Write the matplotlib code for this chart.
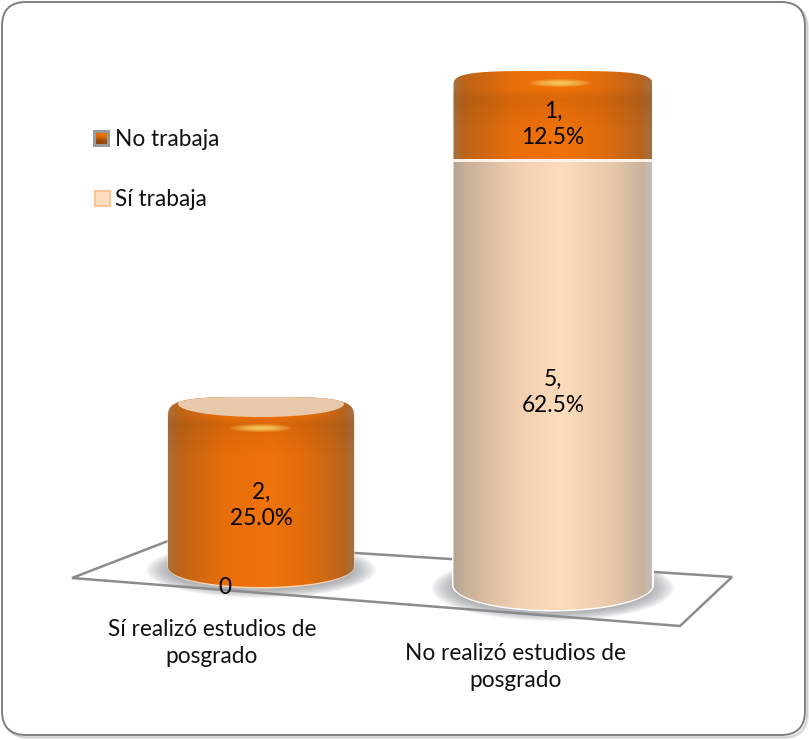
"""Stacked 3D-style cylinder chart: posgrado vs. empleo."""

import numpy as np
import matplotlib
matplotlib.use("Agg")
import matplotlib.pyplot as plt
from matplotlib.patches import Ellipse, FancyBboxPatch, Polygon, Rectangle

plt.rcParams['font.family'] = ['Lato', 'DejaVu Sans']

# data
categories = ["Sí realizó estudios de\nposgrado", "No realizó estudios de\nposgrado"]
series_names = ["No trabaja", "Sí trabaja"]
si_trabaja = [0, 5]
no_trabaja = [2, 1]
si_pct = [0.0, 62.5]
no_pct = [25.0, 12.5]

# layout, in pixels of the 809x740 canvas
W, H = 809, 740
PX_PER_UNIT = 85
BAR_XC = [261, 553]
BAR_HALF = [93, 99.5]
BAR_BASE = [567, 585]   # where the side walls end
BAR_DEPTH = [20, 25]    # depth of the lower ellipse arc
ROOF = [22, 16]         # height of the shoulder above the top of the wall
ROOF_LIFT = [0, 4]      # perspective lift of the roof on the nearer bar
FONT = 16.3

ORANGE = [(0.00, (168, 112, 62)), (0.06, (190, 100, 25)), (0.30, (232, 110, 10)),
          (0.55, (240, 115, 10)), (0.75, (225, 108, 12)), (0.95, (185, 100, 30)),
          (1.00, (160, 112, 70))]
TAN = [(0.00, (180, 165, 150)), (0.06, (200, 175, 152)), (0.30, (240, 205, 174)),
       (0.55, (253, 220, 188)), (0.80, (232, 200, 170)), (0.96, (200, 178, 158)),
       (1.00, (195, 190, 185))]


def gradient(stops, n=200):
    t = np.linspace(0, 1, n)
    pos = [s[0] for s in stops]
    rgb = np.array([s[1] for s in stops]) / 255
    return np.stack([np.interp(t, pos, rgb[:, i]) for i in range(3)], axis=-1)[None, :, :]


def silhouette(xc, half, y_wall, y_bot, depth, roof):
    """Closed outline: flat rounded roof, straight walls, curved floor."""
    t = np.linspace(np.pi, 0, 120)
    top_x = xc + half * np.sign(np.cos(t)) * np.abs(np.cos(t)) ** 0.5
    top_y = y_wall - roof * np.abs(np.sin(t)) ** 0.55
    t = np.linspace(0, np.pi, 80)
    bot_x = xc + half * np.cos(t)
    bot_y = y_bot + depth * np.sin(t)
    return np.column_stack([np.r_[top_x, bot_x], np.r_[top_y, bot_y]])


def draw_segment(ax, xc, half, y_wall, y_bot, depth, roof, stops, z):
    verts = silhouette(xc, half, y_wall, y_bot, depth, roof)
    clip = Polygon(verts, closed=True, transform=ax.transData, fc='none', ec='none')
    ax.add_patch(clip)
    im = ax.imshow(gradient(stops), extent=(xc - half, xc + half, y_bot + depth, y_wall - roof),
                   aspect='auto', zorder=z, interpolation='bilinear')
    im.set_clip_path(clip)
    return clip


def draw_shadow(ax, xc, half, y_c, depth):
    for k in np.linspace(1, 0, 12):
        ax.add_patch(Ellipse((xc, y_c), 2 * (half + 22 * k), 2 * (depth + 8 * k),
                             fc='#8a8d92', ec='none', alpha=0.08, zorder=2))


def draw_bevel(ax, clip, xc, half, y0, y1, z):
    """Shaded band under the shoulder of a cylinder."""
    a = np.interp(np.linspace(0, 1, 60), [0, 0.3, 0.45, 1], [0.0, 0.0, 0.16, 0.0])
    img = np.zeros((60, 1, 4))
    img[:, :, :3] = (0.45, 0.22, 0.0)
    img[:, 0, 3] = a
    im = ax.imshow(img, extent=(xc - half, xc + half, y1, y0), aspect='auto', zorder=z,
                   interpolation='bilinear')
    im.set_clip_path(clip)


def draw_glow(ax, x, y, z):
    for k in np.linspace(1, 0.1, 10):
        ax.add_patch(Ellipse((x, y), 62 * k, 8 * k, fc='#ffe27a', ec='none', alpha=0.14, zorder=z))


fig = plt.figure(figsize=(W / 100, H / 100), dpi=100, facecolor='white')
ax = fig.add_axes([0, 0, 1, 1])
ax.set_xlim(0, W)
ax.set_ylim(H, 0)
ax.axis('off')

# frame with a soft shadow
for off, a in [(3, 0.12), (2, 0.2)]:
    ax.add_patch(FancyBboxPatch((2 + off, 2 + off), 803, 733, boxstyle="round,pad=0,rounding_size=24",
                                fc='none', ec='#555555', lw=1.5, alpha=a, zorder=0))
ax.add_patch(FancyBboxPatch((2, 2), 803, 733, boxstyle="round,pad=0,rounding_size=24",
                            fc='white', ec='#7f7f7f', lw=1.4, zorder=0.5))

# floor of the chart
ax.add_patch(Polygon([(72, 578), (168, 541), (732, 577), (680, 626)], closed=True,
                     fc='white', ec='#8c8c8c', lw=1.8, zorder=1))

# cylinders
for i in range(2):
    xc, half, base, depth, roof = BAR_XC[i], BAR_HALF[i], BAR_BASE[i], BAR_DEPTH[i], ROOF[i]
    draw_shadow(ax, xc, half, base + 3, depth)
    boundary = base - si_trabaja[i] * PX_PER_UNIT
    top = boundary - no_trabaja[i] * PX_PER_UNIT - ROOF_LIFT[i]   # top of the silhouette
    wall = top + roof

    if si_trabaja[i] > 0:
        # white rim around the lower segment
        ax.add_patch(Polygon(silhouette(xc, half + 1.5, boundary, base, depth + 1.5, 0.1),
                             closed=True, fc='white', ec='none', zorder=3))
        draw_segment(ax, xc, half, boundary, base, depth, 0.1, TAN, 4)

    y_end = boundary if si_trabaja[i] > 0 else base
    d_end = 0 if si_trabaja[i] > 0 else depth
    if si_trabaja[i] == 0:
        ax.add_patch(Polygon(silhouette(xc, half + 0.5, wall, y_end, d_end + 1.5, roof),
                             closed=True, fc='#fbd5b0', ec='none', zorder=3))
    clip = draw_segment(ax, xc, half, wall, y_end, d_end, roof, ORANGE, 5)
    draw_bevel(ax, clip, xc, half, top, top + 60, 5.5)
    draw_glow(ax, xc + (0 if i == 0 else 7), top + (31 if i == 0 else 12), 6)

    if si_trabaja[i] > 0:
        ax.add_patch(Rectangle((xc - half, boundary - 1.5), 2 * half, 3, fc='#fdf3ea', ec='none', zorder=7))
    else:
        # pale roof of the short cylinder
        face = Ellipse((xc, top + 7), 2 * half - 20, 26, fc='#e9c9ab', ec='none', zorder=6)
        ax.add_patch(face)
        face.set_clip_path(clip)

# data labels
LABEL_Y = [[None, 505], [392, 124]]
for i in range(2):
    if si_trabaja[i] > 0:
        ax.text(BAR_XC[i], LABEL_Y[i][0], f"{si_trabaja[i]},\n{si_pct[i]:.1f}%", ha='center', va='center',
                fontsize=FONT, color='black', zorder=10, linespacing=1.3)
    else:
        ax.text(225, 587, f"{si_trabaja[i]}", ha='center', va='center', fontsize=FONT, color='black', zorder=10)
    ax.text(BAR_XC[i], LABEL_Y[i][1], f"{no_trabaja[i]},\n{no_pct[i]:.1f}%", ha='center', va='center',
            fontsize=FONT, color='black', zorder=10, linespacing=1.3)

# category labels
ax.text(212, 643, categories[0], ha='center', va='center', fontsize=FONT, color='#111111', linespacing=1.32)
ax.text(516, 667, categories[1], ha='center', va='center', fontsize=FONT, color='#111111', linespacing=1.32)

# legend
ax.add_patch(Rectangle((93, 130), 17, 17, fc='#9a9a9a', ec='none', zorder=3))
ax.imshow(np.array([[[0.9, 0.42, 0.04], [0.93, 0.45, 0.04]], [[0.55, 0.28, 0.05], [0.62, 0.3, 0.05]]]),
          extent=(96, 107, 144, 133), aspect='auto', zorder=4, interpolation='bilinear')
ax.add_patch(Rectangle((95, 191), 15, 15, fc='#fddcc0', ec='#fbc596', lw=1.5, zorder=3))
ax.text(115, 140, series_names[0], ha='left', va='center', fontsize=FONT, color='#111111')
ax.text(115, 200, series_names[1], ha='left', va='center', fontsize=FONT, color='#111111')

ax.set_xlim(0, W)
ax.set_ylim(H, 0)
fig.savefig("out.png", dpi=100, facecolor='white')
